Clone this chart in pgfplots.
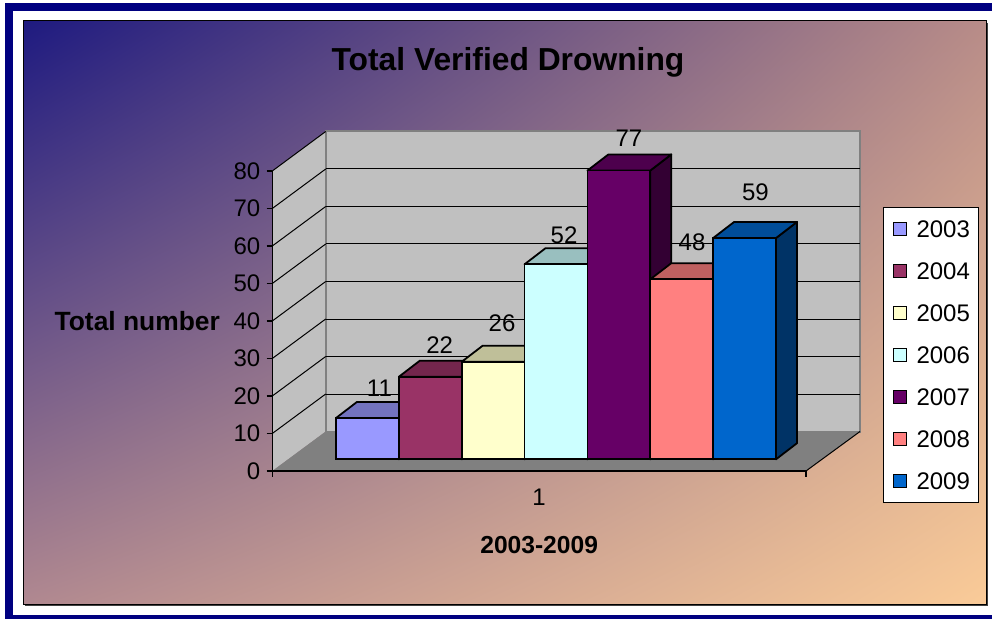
\documentclass[border=0pt]{standalone}
\usepackage{fontspec}
\setmainfont{Liberation Sans}
\usepackage{pgfplots}
\pgfplotsset{compat=1.18}
\usetikzlibrary{shadings}

\definecolor{navyc}{HTML}{000080}
\definecolor{bgTL}{HTML}{1E1A80}
\definecolor{bgTR}{HTML}{B88C88}
\definecolor{bgBL}{HTML}{B08890}
\definecolor{bgBR}{HTML}{FACB98}
\definecolor{wallc}{HTML}{C0C0C0}
\definecolor{floorc}{HTML}{808080}
\definecolor{edgec}{HTML}{808080}
% front / top / side colours
\definecolor{f03}{HTML}{9999FF}\definecolor{t03}{HTML}{7373BF}\definecolor{s03}{HTML}{4D4D80}
\definecolor{f04}{HTML}{993366}\definecolor{t04}{HTML}{73264D}\definecolor{s04}{HTML}{4D1A33}
\definecolor{f05}{HTML}{FFFFCC}\definecolor{t05}{HTML}{BFBF99}\definecolor{s05}{HTML}{808066}
\definecolor{f06}{HTML}{CCFFFF}\definecolor{t06}{HTML}{99BFBF}\definecolor{s06}{HTML}{668080}
\definecolor{f07}{HTML}{660066}\definecolor{t07}{HTML}{4D004D}\definecolor{s07}{HTML}{330033}
\definecolor{f08}{HTML}{FF8080}\definecolor{t08}{HTML}{BF6060}\definecolor{s08}{HTML}{804040}
\definecolor{f09}{HTML}{0066CC}\definecolor{t09}{HTML}{004D99}\definecolor{s09}{HTML}{003366}

\begin{document}
\begin{tikzpicture}[x=1pt,y=1pt]
% ---- background and frame ----
\fill[white] (0,0) rectangle (496,309.5);
\fill[navyc] (2.5,0) rectangle (496,308);
\fill[white] (6.5,2) rectangle (496,304);
\fill[black!75] (12.5,6.35) rectangle (494,298);
\shade[upper left=bgTL, upper right=bgTR, lower left=bgBL, lower right=bgBR] (11.5,7.35) rectangle (493,299);
\draw[black, line width=0.5pt] (11.5,7.35) rectangle (493,299);
% ---- title ----
\node[font=\bfseries\fontsize{15.9}{18}\selectfont] at (254,278.5) {Total Verified Drowning};

% ---- frame axis: walls, floor, value axis ----
\begin{axis}[
  at={(136.15pt,74pt)}, anchor=south west,
  scale only axis, width=266.85pt, height=150pt,
  xmin=0, xmax=533.7, ymin=0, ymax=80,
  axis x line=bottom, axis y line=left,
  axis line style={-, black, line width=0.6pt},
  axis on top, clip=false,
  tick align=outside, major tick length=2.8pt,
  tick style={black, line width=0.6pt},
  ytick={0,10,...,80},
  xtick={0,533.7}, xticklabels={},
  extra x ticks={266.85}, extra x tick labels={1},
  extra x tick style={major tick length=0pt},
  /pgf/number format/assume math mode=true,
  tick label style={font=\fontsize{12}{14}\selectfont},
  yticklabel style={inner xsep=3pt},
  xticklabel style={yshift=-5.3pt},
  xlabel={2003-2009}, ylabel={Total number},
  every axis x label/.style={at={(axis description cs:0.5,0)}, anchor=center, yshift=-37pt, inner sep=0pt, font=\bfseries\fontsize{12.3}{14}\selectfont},
  every axis y label/.style={at={(axis description cs:0,0.5)}, anchor=east, xshift=-26pt, inner sep=0pt, font=\bfseries\fontsize{13.2}{15}\selectfont},
]
% left side wall
\addplot[fill=wallc, draw=none, forget plot] coordinates {(0,0) (53.4,10.53) (53.4,90.53) (0,80)} --cycle;
% back wall
\addplot[fill=wallc, draw=edgec, line width=1pt, forget plot] coordinates {(53.4,10.53) (587.7,10.53) (587.7,90.53) (53.4,90.53)} --cycle;
% grid lines on back wall
\addplot[black, line width=0.5pt, unbounded coords=jump, forget plot] coordinates {
 (53.4,20.53) (587.7,20.53) (nan,nan)
 (53.4,30.53) (587.7,30.53) (nan,nan)
 (53.4,40.53) (587.7,40.53) (nan,nan)
 (53.4,50.53) (587.7,50.53) (nan,nan)
 (53.4,60.53) (587.7,60.53) (nan,nan)
 (53.4,70.53) (587.7,70.53) (nan,nan)
 (53.4,80.53) (587.7,80.53)};
% grid lines on side wall
\addplot[black, line width=0.5pt, unbounded coords=jump, forget plot] coordinates {
 (0,10) (53.4,20.53) (nan,nan)
 (0,20) (53.4,30.53) (nan,nan)
 (0,30) (53.4,40.53) (nan,nan)
 (0,40) (53.4,50.53) (nan,nan)
 (0,50) (53.4,60.53) (nan,nan)
 (0,60) (53.4,70.53) (nan,nan)
 (0,70) (53.4,80.53) (nan,nan)
 (0,80) (53.4,90.53)};
% floor
\addplot[fill=floorc, draw=none, forget plot] coordinates {(0,0) (533.7,0) (587.7,10.53) (53.4,10.53)} --cycle;
\addplot[black, line width=0.5pt, forget plot] coordinates {(533.7,0) (587.7,10.53)};
\end{axis}

% ---- bar axis ----
\begin{axis}[
  at={(144.05pt,79.85pt)}, anchor=south west,
  scale only axis, width=266.85pt, height=150pt,
  xmin=0, xmax=533.7, ymin=0, ymax=80,
  hide axis, clip=false,
  /pgf/number format/assume math mode=true,
  legend image code/.code={\draw[#1, draw=black, line width=0.6pt] (0pt,-3.25pt) rectangle (6.5pt,3.25pt);},
  legend cell align=left,
  legend style={at={(1.1153,0.84)}, anchor=north west, draw=black, line width=0.5pt, fill=white,
    font=\fontsize{12}{14}\selectfont, inner xsep=4.5pt, inner ysep=0.3pt, column sep=4.75pt,
    nodes={inner sep=0pt, text height=14.775pt, text depth=6.175pt}},
  bar style/.style={ybar, bar width=62.86, bar shift=0pt, draw=black, line width=0.9pt,
    nodes near coords, every node near coord/.append style={anchor=center, font=\fontsize{12}{14}\selectfont, text=black}},
  face/.style={draw=black, line width=0.9pt, line join=round, forget plot},
]
% 2003
\addplot[face, fill=s03] coordinates {(110.76,0) (131.76,4.3) (131.76,15.3) (110.76,11)} --cycle;
\addplot[face, fill=t03] coordinates {(47.9,11) (68.9,15.3) (131.76,15.3) (110.76,11)} --cycle;
\addplot[bar style, fill=f03, every node near coord/.append style={xshift=6pt, yshift=14.7pt}] coordinates {(79.33,11)};
% 2004
\addplot[face, fill=s04] coordinates {(173.62,0) (194.62,4.3) (194.62,26.3) (173.62,22)} --cycle;
\addplot[face, fill=t04] coordinates {(110.76,22) (131.76,26.3) (194.62,26.3) (173.62,22)} --cycle;
\addplot[bar style, fill=f04, every node near coord/.append style={xshift=4.7pt, yshift=16.05pt}] coordinates {(142.19,22)};
% 2005
\addplot[face, fill=s05] coordinates {(236.48,0) (257.48,4.3) (257.48,30.3) (236.48,26)} --cycle;
\addplot[face, fill=t05] coordinates {(173.62,26) (194.62,30.3) (257.48,30.3) (236.48,26)} --cycle;
\addplot[bar style, fill=f05, every node near coord/.append style={xshift=4.45pt, yshift=19.15pt}] coordinates {(205.05,26)};
% 2006
\addplot[face, fill=s06] coordinates {(299.34,0) (320.34,4.3) (320.34,56.3) (299.34,52)} --cycle;
\addplot[face, fill=t06] coordinates {(236.48,52) (257.48,56.3) (320.34,56.3) (299.34,52)} --cycle;
\addplot[bar style, fill=f06, every node near coord/.append style={xshift=4pt, yshift=14.65pt}] coordinates {(267.91,52)};
% 2007
\addplot[face, fill=s07] coordinates {(362.2,0) (383.2,4.3) (383.2,81.3) (362.2,77)} --cycle;
\addplot[face, fill=t07] coordinates {(299.34,77) (320.34,81.3) (383.2,81.3) (362.2,77)} --cycle;
\addplot[bar style, fill=f07, every node near coord/.append style={xshift=5pt, yshift=16.25pt}] coordinates {(330.77,77)};
% 2008
\addplot[face, fill=s08] coordinates {(425.06,0) (446.06,4.3) (446.06,52.3) (425.06,48)} --cycle;
\addplot[face, fill=t08] coordinates {(362.2,48) (383.2,52.3) (446.06,52.3) (425.06,48)} --cycle;
\addplot[bar style, fill=f08, every node near coord/.append style={xshift=5.15pt, yshift=18.45pt}] coordinates {(393.63,48)};
% 2009
\addplot[face, fill=s09] coordinates {(487.92,0) (508.92,4.3) (508.92,63.3) (487.92,59)} --cycle;
\addplot[face, fill=t09] coordinates {(425.06,59) (446.06,63.3) (508.92,63.3) (487.92,59)} --cycle;
\addplot[bar style, fill=f09, every node near coord/.append style={xshift=5.45pt, yshift=22.85pt}] coordinates {(456.49,59)};
\legend{2003,2004,2005,2006,2007,2008,2009}
\end{axis}
\pgfresetboundingbox
\useasboundingbox (0,0) rectangle (496,309.5);
\end{tikzpicture}
\end{document}
